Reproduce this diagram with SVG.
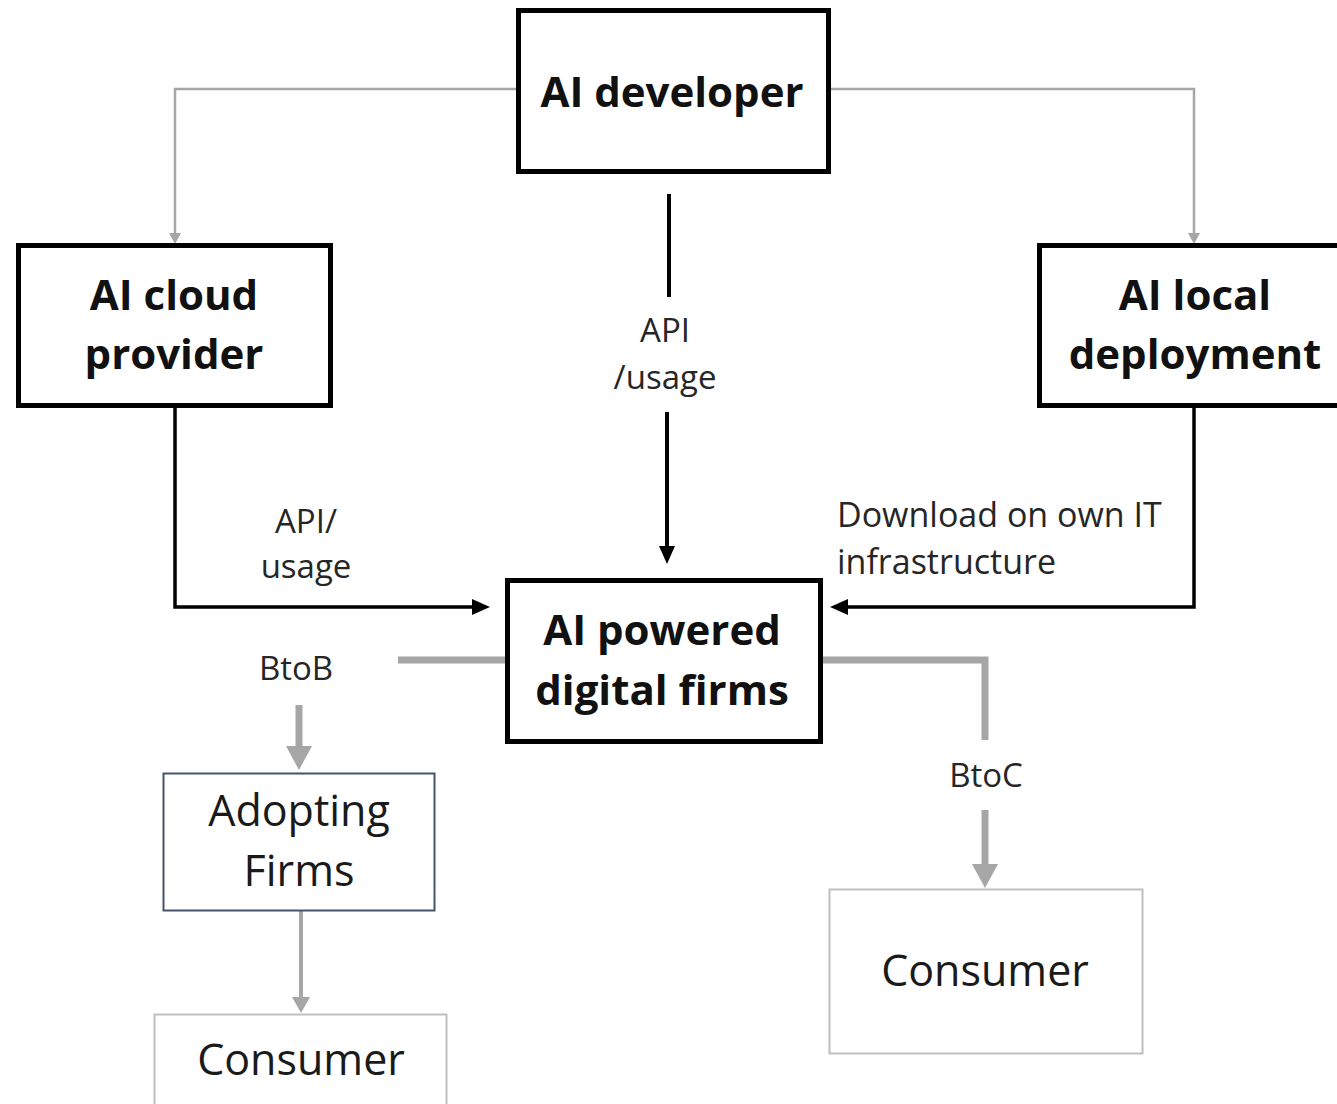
<svg xmlns="http://www.w3.org/2000/svg" width="1337" height="1104" viewBox="0 0 1337 1104">
  <style>
    .box { fill: #ffffff; stroke: #000000; stroke-width: 5; }
    .box-blue { fill: #ffffff; stroke: #44546a; stroke-width: 2; }
    .box-light { fill: #ffffff; stroke: #bfbfbf; stroke-width: 2; }
    .title { font-family: "Open Sans", "Noto Sans", sans-serif; font-weight: 700; font-size: 42px; fill: #111111; text-anchor: middle; }
    .name { font-family: "Open Sans", "Noto Sans", sans-serif; font-weight: 400; font-size: 43px; fill: #1a1a1a; text-anchor: middle; }
    .label { font-family: "Open Sans", "Noto Sans", sans-serif; font-weight: 400; font-size: 33px; fill: #262626; }
    .label-wide { font-size: 34px; }
    .mid { text-anchor: middle; }
    .link-black { fill: none; stroke: #000000; stroke-width: 3.5; }
    .link-axis { fill: none; stroke: #000000; stroke-width: 4; }
    .link-thin { fill: none; stroke: #a6a6a6; stroke-width: 2.5; }
    .link-thick { fill: none; stroke: #a6a6a6; stroke-width: 7; }
    .link-medium { fill: none; stroke: #a6a6a6; stroke-width: 4; }
  </style>
  <defs>
    <marker id="head-black" markerUnits="userSpaceOnUse" markerWidth="18" markerHeight="16" refX="0" refY="8" orient="auto">
      <path d="M0,0 L18,8 L0,16 z" fill="#000000"/>
    </marker>
    <marker id="head-thin" markerUnits="userSpaceOnUse" markerWidth="11" markerHeight="12" refX="0" refY="6" orient="auto">
      <path d="M0,0 L11,6 L0,12 z" fill="#a6a6a6"/>
    </marker>
    <marker id="head-thick" markerUnits="userSpaceOnUse" markerWidth="24" markerHeight="26" refX="0" refY="13" orient="auto">
      <path d="M0,0 L24,13 L0,26 z" fill="#a6a6a6"/>
    </marker>
    <marker id="head-medium" markerUnits="userSpaceOnUse" markerWidth="16" markerHeight="18" refX="0" refY="9" orient="auto">
      <path d="M0,0 L16,9 L0,18 z" fill="#a6a6a6"/>
    </marker>
  </defs>

  <rect width="1337" height="1104" fill="#ffffff"/>

  <g id="connectors">
    <!-- developer to cloud provider / local deployment -->
    <path class="link-thin" d="M518,89 H175 V233" marker-end="url(#head-thin)"/>
    <path class="link-thin" d="M829,89 H1194 V233" marker-end="url(#head-thin)"/>
    <!-- developer direct API -->
    <path class="link-axis" d="M669,194 V297"/>
    <path class="link-axis" d="M667,412 V546" marker-end="url(#head-black)"/>
    <!-- cloud provider to digital firms -->
    <path class="link-black" d="M175,408 V607 H472" marker-end="url(#head-black)"/>
    <!-- local deployment to digital firms -->
    <path class="link-black" d="M1194,408 V607 H848" marker-end="url(#head-black)"/>
    <!-- BtoB -->
    <path class="link-thick" d="M506,660 H398"/>
    <path class="link-thick" d="M299,705 V746" marker-end="url(#head-thick)"/>
    <!-- BtoC -->
    <path class="link-thick" d="M822,660 H985 V740"/>
    <path class="link-thick" d="M985,810 V864" marker-end="url(#head-thick)"/>
    <!-- adopting firms to consumer -->
    <path class="link-medium" d="M301,911 V997" marker-end="url(#head-medium)"/>
  </g>

  <g id="connector-labels">
    <text class="label mid" x="665" y="342">API</text>
    <text class="label mid" x="665" y="389">/usage</text>
    <text class="label mid" x="306" y="533">API/</text>
    <text class="label mid" x="306" y="578">usage</text>
    <text class="label label-wide" x="837" y="527">Download on own IT</text>
    <text class="label label-wide" x="837" y="574">infrastructure</text>
    <text class="label mid" x="296" y="680">BtoB</text>
    <text class="label mid" x="986" y="787">BtoC</text>
  </g>

  <g id="ai-developer">
    <rect class="box" x="518.5" y="10.5" width="310" height="161"/>
    <text class="title" x="672" y="107">AI developer</text>
  </g>

  <g id="ai-cloud-provider">
    <rect class="box" x="18.5" y="245.5" width="312" height="160"/>
    <text class="title" x="174" y="310">AI cloud</text>
    <text class="title" x="174" y="369">provider</text>
  </g>

  <g id="ai-local-deployment">
    <rect class="box" x="1039.5" y="245.5" width="310" height="160"/>
    <text class="title" x="1195" y="310">AI local</text>
    <text class="title" x="1195" y="369">deployment</text>
  </g>

  <g id="ai-powered-digital-firms">
    <rect class="box" x="507.5" y="580.5" width="313" height="161"/>
    <text class="title" x="662" y="645">AI powered</text>
    <text class="title" x="662" y="705">digital firms</text>
  </g>

  <g id="adopting-firms">
    <rect class="box-blue" x="163.5" y="773.5" width="271" height="137"/>
    <text class="name" x="299" y="826">Adopting</text>
    <text class="name" x="299" y="886">Firms</text>
  </g>

  <g id="consumer-btoc">
    <rect class="box-light" x="829.5" y="889.5" width="313" height="164"/>
    <text class="name" x="985" y="986">Consumer</text>
  </g>

  <g id="consumer-btob">
    <rect class="box-light" x="154.5" y="1014.5" width="292" height="100"/>
    <text class="name" x="301" y="1075">Consumer</text>
  </g>
</svg>
